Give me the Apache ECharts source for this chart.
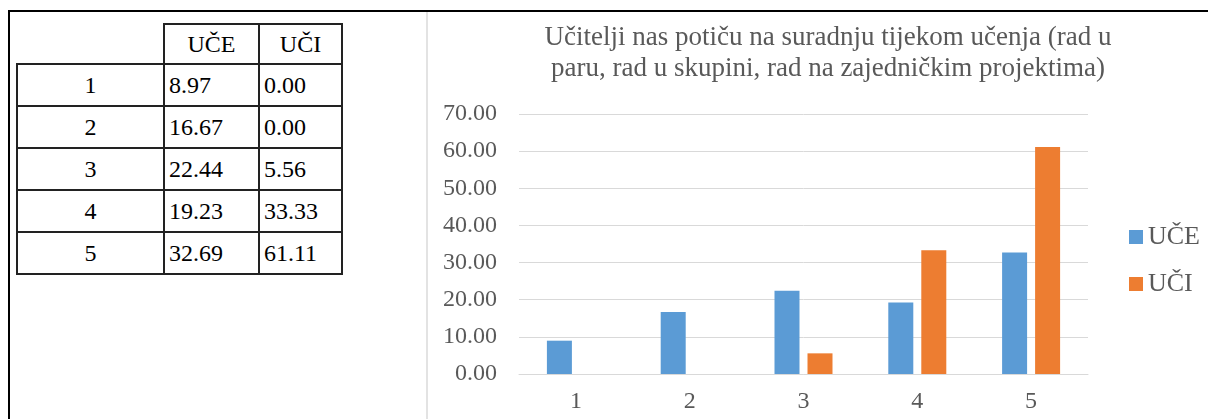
<!DOCTYPE html>
<html>
<head>
<meta charset="utf-8">
<script src="https://cdn.jsdelivr.net/npm/echarts@6/dist/echarts.min.js"></script>
<style>
  html, body { margin: 0; padding: 0; width: 1208px; height: 419px; overflow: hidden; background: #fff; }
  .frame-top { position: absolute; left: 8px; top: 10px; width: 1200px; height: 2px; background: #000; }
  .frame-left { position: absolute; left: 8px; top: 10px; width: 2px; height: 409px; background: #000; }
  .divider { position: absolute; left: 426px; top: 12px; width: 2px; height: 407px; background: #e3e3e3; }
  table.data { position: absolute; left: 16px; top: 23px; border-collapse: collapse; table-layout: fixed;
    font-family: "Liberation Serif", "Times New Roman", serif; font-size: 24px; color: #000; }
  table.data td { border: 2px solid #222; padding: 0 4px; height: 38px; box-sizing: border-box; }
  table.data td.c0 { text-align: center; }
  table.data tr.head td { text-align: center; }
  table.data td.blank { border-top: none; border-left: none; }
  .main { position: absolute; left: 428px; top: 0; width: 800px; height: 419px; }
</style>
</head>
<body>
<div class="frame-top"></div>
<div class="frame-left"></div>
<div class="divider"></div>
<table class="data" id="tbl"></table>
<div class="main" id="main"></div>
<script>
  var categories = ['1', '2', '3', '4', '5'];
  var seriesNames = ['UČE', 'UČI'];
  var uce = [8.97, 16.67, 22.44, 19.23, 32.69];
  var uci = [0.00, 0.00, 5.56, 33.33, 61.11];

  var titleText = 'Učitelji nas potiču na suradnju tijekom učenja (rad u\nparu, rad u skupini, rad na zajedničkim projektima)';

  // tablica lijevo
  var tbl = document.getElementById('tbl');
  var html = '<colgroup><col style="width:147px"><col style="width:95px"><col style="width:83px"></colgroup>';
  html += '<tr class="head"><td class="blank"></td><td>' + seriesNames[0] + '</td><td>' + seriesNames[1] + '</td></tr>';
  for (var i = 0; i < categories.length; i++) {
    html += '<tr><td class="c0">' + categories[i] + '</td><td>' + uce[i].toFixed(2) + '</td><td>' + uci[i].toFixed(2) + '</td></tr>';
  }
  tbl.innerHTML = html;
  var rows = tbl.getElementsByTagName('tr');
  rows[0].children[1].style.height = '40px';
  for (var r = 1; r < rows.length; r++) {
    for (var c = 0; c < 3; c++) rows[r].children[c].style.height = '42px';
  }

  var serif = '"Liberation Serif", "Times New Roman", serif';
  var gray = '#595959';

  var myChart = echarts.init(document.getElementById('main'));

  var option = {
    animation: false,
    title: {
      text: titleText,
      left: 'center',
      top: 17,
      textStyle: {
        fontFamily: serif,
        fontSize: 27,
        fontWeight: 'normal',
        color: gray,
        lineHeight: 31
      }
    },
    legend: {
      orient: 'vertical',
      left: 696,
      top: 219,
      itemWidth: 14,
      itemHeight: 14,
      itemGap: 21,
      icon: 'rect',
      data: seriesNames,
      textStyle: { fontFamily: serif, fontSize: 26, color: gray }
    },
    grid: {
      left: 91,
      right: 140,
      top: 114,
      bottom: 45
    },
    xAxis: {
      type: 'category',
      data: categories,
      axisLine: { lineStyle: { color: '#d9d9d9', width: 1 } },
      axisTick: { show: false },
      axisLabel: { color: gray, fontFamily: serif, fontSize: 24, margin: 16 }
    },
    yAxis: {
      type: 'value',
      min: 0,
      max: 70,
      interval: 10,
      axisLine: { show: false },
      axisTick: { show: false },
      splitLine: { lineStyle: { color: '#d9d9d9', width: 1 } },
      axisLabel: {
        color: gray,
        fontFamily: serif,
        fontSize: 24,
        margin: 22,
        formatter: function(v) { return v.toFixed(2); }
      }
    },
    series: [{
      name: seriesNames[0],
      type: 'bar',
      data: uce,
      barWidth: 25,
      barGap: '32%',
      itemStyle: { color: '#5b9bd5' }
    }, {
      name: seriesNames[1],
      type: 'bar',
      data: uci,
      barWidth: 25,
      itemStyle: { color: '#ed7d31' }
    }]
  };

  myChart.setOption(option);
</script>
</body>
</html>
